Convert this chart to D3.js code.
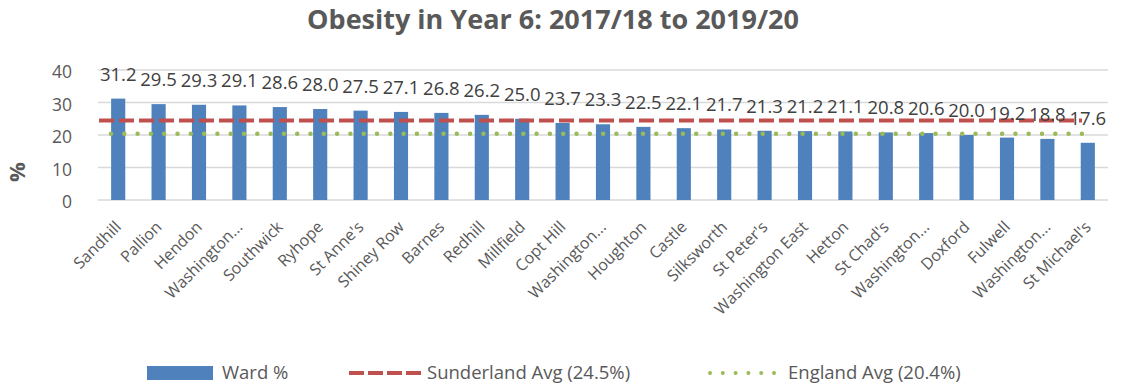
<!DOCTYPE html>
<html><head><meta charset="utf-8">
<script src="https://cdn.jsdelivr.net/npm/d3@7/dist/d3.min.js"></script>
<style>body{margin:0;background:#fff;} text{font-family:"Open Sans",sans-serif;}</style>
</head><body><svg id="c" width="1121" height="385"></svg>
<script>
const categories = ["Sandhill","Pallion","Hendon","Washington...","Southwick","Ryhope","St Anne's","Shiney Row","Barnes","Redhill","Millfield","Copt Hill","Washington...","Houghton","Castle","Silksworth","St Peter's","Washington East","Hetton","St Chad's","Washington...","Doxford","Fulwell","Washington...","St Michael's"];
const wardValues = [31.2,29.5,29.3,29.1,28.6,28.0,27.5,27.1,26.8,26.2,25.0,23.7,23.3,22.5,22.1,21.7,21.3,21.2,21.1,20.8,20.6,20.0,19.2,18.8,17.6];
const sunderlandAvg = 24.5;
const englandAvg = 20.4;
const yTicks = [0,10,20,30,40];
const chartTitle = "Obesity in Year 6: 2017/18 to 2019/20";
const legendLabels = ["Ward %","Sunderland Avg (24.5%)","England Avg (20.4%)"];

const svg = d3.select("#c");
const pLeft = 98, pRight = 1108, pTop = 70, pBottom = 200;
const idx = d3.range(categories.length);
const x = d3.scaleBand().domain(idx).range([pLeft, pRight]).paddingInner(0.65).paddingOuter(0.325);
const y = d3.scaleLinear().domain([0,40]).range([pBottom, pTop]);
const grey = "#595959";

svg.append("text").attr("x",553).attr("y",29).attr("text-anchor","middle")
  .attr("font-size",27).attr("font-weight","bold").attr("fill",grey).text(chartTitle);

// gridlines
svg.append("g").selectAll("line").data(yTicks).join("line")
  .attr("x1",pLeft).attr("x2",pRight).attr("y1",d=>y(d)).attr("y2",d=>y(d))
  .attr("stroke","#d9d9d9").attr("stroke-width",1.3);

// y axis
const ya = svg.append("g").attr("transform",`translate(${pLeft},2)`)
  .call(d3.axisLeft(y).tickValues(yTicks).tickSize(0).tickPadding(26));
ya.select(".domain").remove();
ya.selectAll("text").attr("font-size",17.5).attr("fill",grey).attr("font-family","Open Sans");

svg.append("text").attr("transform","translate(25,172) rotate(-90)").attr("text-anchor","middle")
  .attr("font-size",22).attr("font-weight","bold").attr("fill",grey).text("%");

// bars
svg.append("g").selectAll("rect").data(wardValues).join("rect")
  .attr("x",(d,i)=>x(i)).attr("width",x.bandwidth())
  .attr("y",d=>y(d)).attr("height",d=>y(0)-y(d)).attr("fill","#4F81BD");

// x axis
const xa = svg.append("g").attr("transform",`translate(0,${pBottom})`)
  .call(d3.axisBottom(x).tickSize(0).tickFormat(i=>categories[i]));
xa.select(".domain").remove();
xa.selectAll("text").attr("font-size",16).attr("fill",grey).attr("font-family","Open Sans")
  .attr("text-anchor","end").attr("dy",0).attr("y",0)
  .attr("transform","translate(4,28) rotate(-45)");

// avg lines
const lx1 = 99, lx2 = 1082;
svg.append("line").attr("x1",lx1).attr("x2",lx2).attr("y1",y(sunderlandAvg)).attr("y2",y(sunderlandAvg))
  .attr("stroke","#C0504D").attr("stroke-width",4).attr("stroke-dasharray","15 5");
svg.append("line").attr("x1",lx1+12).attr("x2",lx2).attr("y1",y(englandAvg)).attr("y2",y(englandAvg))
  .attr("stroke","#9BBB59").attr("stroke-width",4.5).attr("stroke-linecap","round").attr("stroke-dasharray","0 13.3");

// data labels
svg.append("g").selectAll("text").data(wardValues).join("text")
  .attr("x",(d,i)=>x(i)+x.bandwidth()/2).attr("y",d=>y(d)-18)
  .attr("text-anchor","middle").attr("font-size",18.5).attr("fill","#404040")
  .text(d=>d.toFixed(1));

// legend
const lg = svg.append("g");
const ly = 373;
lg.append("rect").attr("x",147).attr("y",ly-7).attr("width",66).attr("height",14).attr("fill","#4F81BD");
lg.append("text").attr("x",222).attr("y",ly+6).attr("font-size",18.5).attr("fill",grey).text(legendLabels[0]);
lg.append("line").attr("x1",349).attr("x2",421).attr("y1",ly).attr("y2",ly)
  .attr("stroke","#C0504D").attr("stroke-width",4).attr("stroke-dasharray","15 4");
lg.append("text").attr("x",427).attr("y",ly+6).attr("font-size",18.5).attr("fill",grey).text(legendLabels[1]);
lg.append("line").attr("x1",710).attr("x2",784).attr("y1",ly).attr("y2",ly)
  .attr("stroke","#9BBB59").attr("stroke-width",4).attr("stroke-linecap","round").attr("stroke-dasharray","0 12.8");
lg.append("text").attr("x",788).attr("y",ly+6).attr("font-size",18.5).attr("fill",grey).text(legendLabels[2]);
</script></body></html>
